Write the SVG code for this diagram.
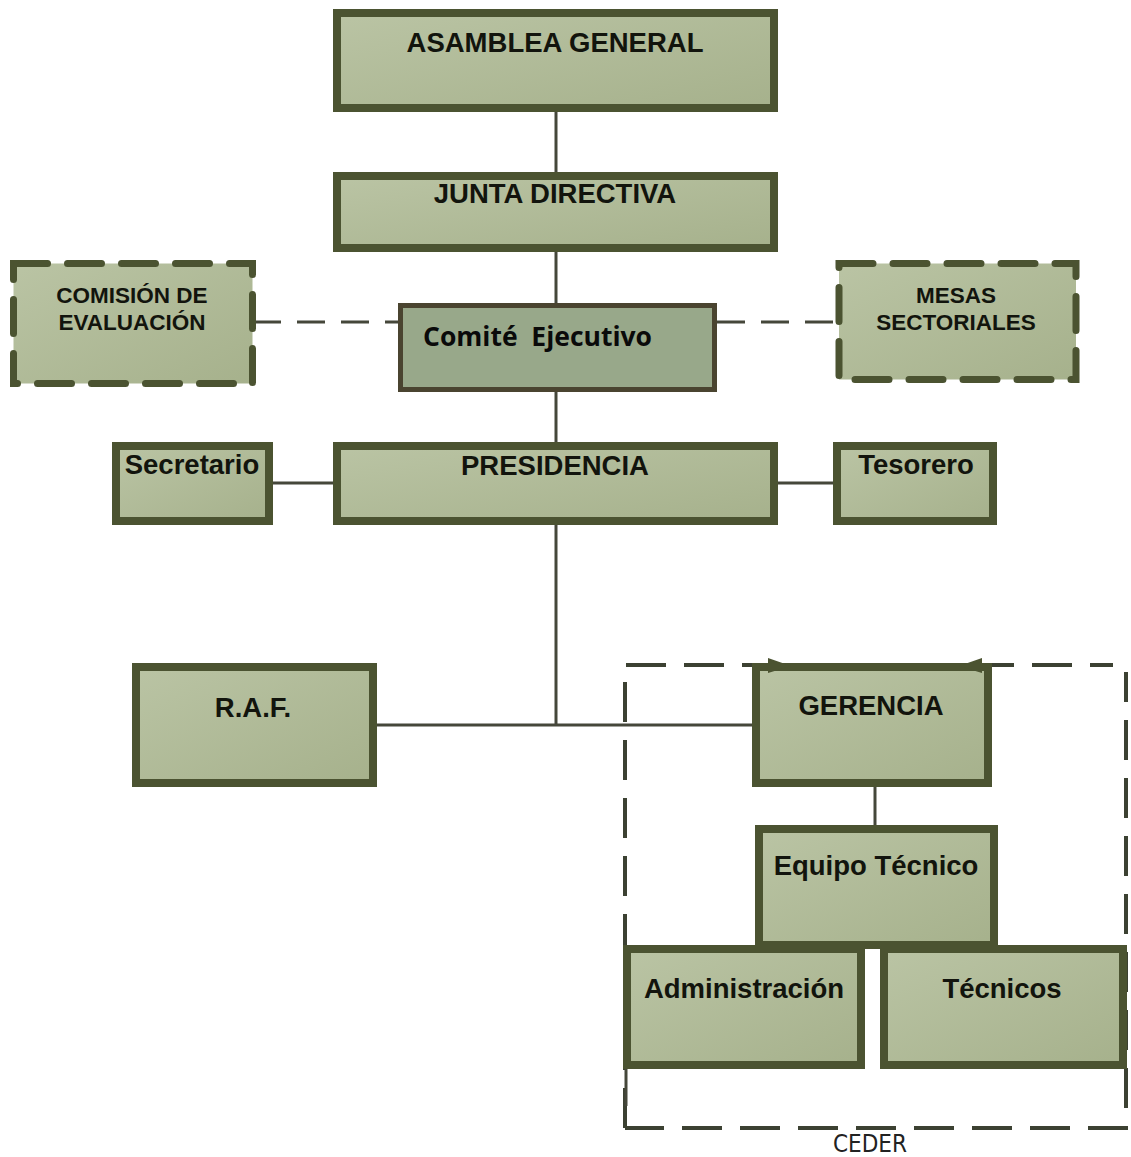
<svg xmlns="http://www.w3.org/2000/svg" width="1131" height="1157" viewBox="0 0 1131 1157">
  <defs>
    <linearGradient id="sage" x1="0" y1="0" x2="1" y2="1">
      <stop offset="0" stop-color="#bac4a4"/>
      <stop offset="1" stop-color="#a6b18c"/>
    </linearGradient>
    <style>
      .box { fill: url(#sage); stroke: #4b5331; stroke-width: 8; }
      .dbox { fill: url(#sage); stroke: #4b5331; stroke-width: 7; stroke-dasharray: 34 20; stroke-linecap: round; }
      .exec { fill: #98a88a; stroke: #4a4430; stroke-width: 5; }
      .lbl { font-family: "Liberation Sans", Arial, sans-serif; font-weight: bold; font-size: 27.5px; fill: #12140d; text-anchor: middle; }
      .sm { font-size: 22.5px; }
      .exec-lbl { font-family: "Open Sans", "Noto Sans", sans-serif; font-weight: bold; font-size: 26.5px; fill: #0a0a0a; white-space: pre; }
      .line { stroke: #45473a; stroke-width: 3; fill: none; }
      .dline { stroke: #45473a; stroke-width: 3; fill: none; stroke-dasharray: 28 16; }
      .frame { stroke: #3c4132; stroke-width: 4; fill: none; stroke-dasharray: 40 18; }
      .caption { font-family: "DejaVu Sans Condensed", "DejaVu Sans", sans-serif; font-stretch: condensed; font-size: 24px; fill: #222222; text-anchor: middle; }
    </style>
  </defs>
  <rect width="1131" height="1157" fill="#ffffff"/>

  <!-- CEDER frame behind the management nodes -->
  <g id="ceder">
    <path class="frame" d="M625,1128 L625,665 L1113,665"/>
    <path class="frame" d="M1126,672 L1126,1128 L625,1128" stroke-dashoffset="10"/>
    <line class="line" x1="626" y1="1066" x2="626" y2="1106" stroke-width="4"/>
    <text class="caption" x="870" y="1152">CEDER</text>
  </g>

  <g id="connectors">
    <line class="line" x1="556" y1="112" x2="556" y2="172"/>
    <line class="line" x1="556" y1="252" x2="556" y2="303"/>
    <line class="line" x1="556" y1="390" x2="556" y2="442"/>
    <line class="line" x1="556" y1="525" x2="556" y2="725"/>
    <line class="line" x1="273" y1="483" x2="333" y2="483"/>
    <line class="line" x1="778" y1="483" x2="833" y2="483"/>
    <line class="line" x1="377" y1="725" x2="752" y2="725"/>
    <line class="line" x1="875" y1="787" x2="875" y2="825"/>
    <line class="dline" x1="253" y1="322" x2="398" y2="322"/>
    <line class="dline" x1="717" y1="322" x2="835" y2="322"/>
  </g>

  <g id="asamblea">
    <rect class="box" x="337" y="13" width="437" height="95"/>
    <text class="lbl" x="555" y="52">ASAMBLEA GENERAL</text>
  </g>
  <g id="junta">
    <rect class="box" x="337" y="176" width="437" height="72"/>
    <text class="lbl" x="555" y="203">JUNTA DIRECTIVA</text>
  </g>
  <g id="comision">
    <rect class="dbox" x="13.5" y="263.5" width="239" height="120"/>
    <text class="lbl sm" x="132" y="303">COMISIÓN DE</text>
    <text class="lbl sm" x="132" y="330">EVALUACIÓN</text>
  </g>
  <g id="comite">
    <rect class="exec" x="400.5" y="305.5" width="314" height="84"/>
    <text class="exec-lbl" x="423" y="346">Comité  Ejecutivo</text>
  </g>
  <g id="mesas">
    <rect class="dbox" x="839" y="263.5" width="237" height="116"/>
    <text class="lbl sm" x="956" y="303">MESAS</text>
    <text class="lbl sm" x="956" y="330">SECTORIALES</text>
  </g>
  <g id="secretario">
    <rect class="box" x="116" y="446" width="153" height="75"/>
    <text class="lbl" x="192" y="474">Secretario</text>
  </g>
  <g id="presidencia">
    <rect class="box" x="337" y="446" width="437" height="75"/>
    <text class="lbl" x="555" y="475">PRESIDENCIA</text>
  </g>
  <g id="tesorero">
    <rect class="box" x="837" y="446" width="156" height="75"/>
    <text class="lbl" x="916" y="474">Tesorero</text>
  </g>
  <g id="raf">
    <rect class="box" x="136" y="667" width="237" height="116"/>
    <text class="lbl" x="253" y="717">R.A.F.</text>
  </g>
  <g id="gerencia">
    <rect class="box" x="756" y="667" width="232" height="116"/>
    <text class="lbl" x="871" y="715">GERENCIA</text>
    <polygon points="768,658 791,666 768,673" fill="#4b5331"/>
    <polygon points="982,658 959,666 982,673" fill="#4b5331"/>
  </g>
  <g id="equipo">
    <rect class="box" x="759" y="829" width="235" height="116"/>
    <text class="lbl" x="876" y="875">Equipo Técnico</text>
  </g>
  <g id="administracion">
    <rect class="box" x="627" y="949" width="234" height="116"/>
    <text class="lbl" x="744" y="998">Administración</text>
  </g>
  <g id="tecnicos">
    <rect class="box" x="884" y="949" width="239" height="116"/>
    <text class="lbl" x="1002" y="998">Técnicos</text>
  </g>
</svg>
